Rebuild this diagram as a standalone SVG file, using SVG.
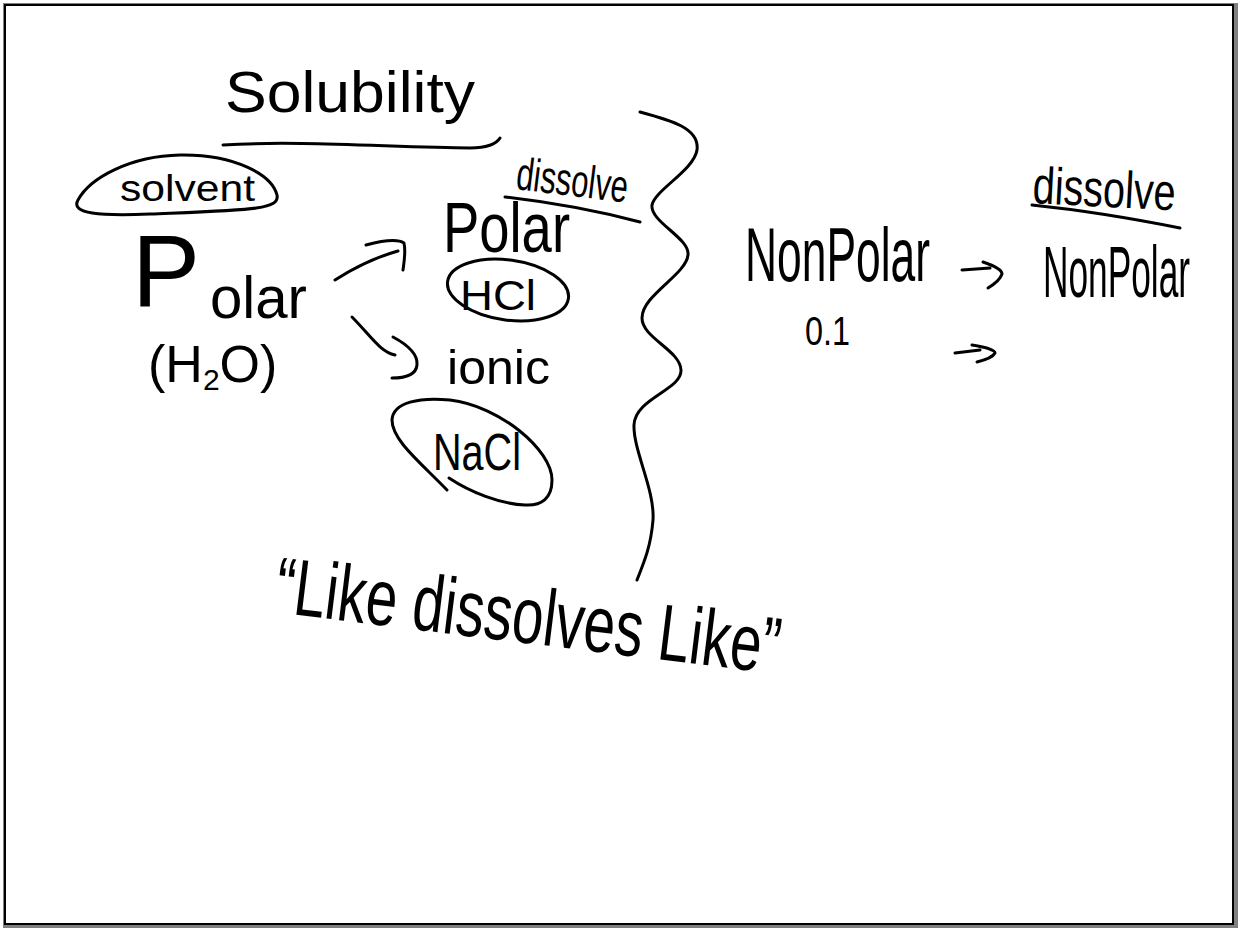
<svg xmlns="http://www.w3.org/2000/svg" width="1238" height="928" viewBox="0 0 1238 928">
  <defs>
    <style>
      .hw { font-family: "Liberation Sans", Arial, sans-serif; fill: #000; }
      .ink { fill: none; stroke: #000; stroke-width: 3; stroke-linecap: round; stroke-linejoin: round; }
    </style>
  </defs>
  <rect x="0" y="0" width="1238" height="928" fill="#ffffff"/>
  <rect x="3" y="3" width="1235" height="925" fill="#808080"/>
  <rect x="5" y="5" width="1228" height="919" fill="#ffffff" stroke="#000" stroke-width="2"/>

  <g id="title">
    <text class="hw" x="225" y="112" font-size="58" textLength="250" lengthAdjust="spacingAndGlyphs">Solubility</text>
    <path class="ink" d="M223,145 C300,140 400,148 470,148 C488,148 497,143 500,138"/>
  </g>

  <g id="solvent">
    <path class="ink" d="M150,214 C100,216 70,214 78,200 C90,178 130,156 180,155 C235,154 272,175 277,195 C280,210 250,210 150,214 Z"/>
    <text class="hw" x="120" y="201" font-size="36" textLength="135" lengthAdjust="spacingAndGlyphs">solvent</text>
  </g>

  <g id="polar-main">
    <text class="hw" x="132" y="306"><tspan font-size="102">P</tspan><tspan x="210" y="318" font-size="60" textLength="97" lengthAdjust="spacingAndGlyphs">olar</tspan></text>
  </g>

  <g id="h2o">
    <text class="hw" x="148" y="382" font-size="52">(H<tspan font-size="30" dy="8">2</tspan><tspan dy="-8">O)</tspan></text>
  </g>

  <g id="polar-upper">
    <text class="hw" x="443" y="252" font-size="70" textLength="127" lengthAdjust="spacingAndGlyphs">Polar</text>
  </g>

  <g id="dissolve-mid">
    <text class="hw" x="515" y="189" font-size="46" textLength="112" lengthAdjust="spacingAndGlyphs" transform="rotate(7 515 189)">dissolve</text>
    <path class="ink" d="M505,197 Q575,205 640,222"/>
  </g>

  <g id="hcl">
    <ellipse class="ink" cx="508" cy="290" rx="61" ry="30" transform="rotate(8 508 290)"/>
    <text class="hw" x="460" y="310" font-size="43" textLength="76" lengthAdjust="spacingAndGlyphs">HCl</text>
  </g>

  <g id="ionic">
    <text class="hw" x="447" y="384" font-size="48" textLength="103" lengthAdjust="spacingAndGlyphs">ionic</text>
  </g>

  <g id="nacl">
    <path class="ink" d="M447,490 C420,462 392,440 392,420 C393,402 420,397 450,400 C500,406 552,450 552,480 C552,498 542,506 525,505 C500,504 470,492 449,478"/>
    <text class="hw" x="433" y="470" font-size="52" textLength="88" lengthAdjust="spacingAndGlyphs">NaCl</text>
  </g>

  <g id="brace">
    <path class="ink" d="M640,112 C670,120 700,128 697,150 C694,170 655,190 652,205 C650,222 690,238 688,255 C686,275 642,295 642,318 C642,338 680,350 681,370 C682,390 635,398 634,425 C633,450 655,490 653,520 C651,545 645,560 637,580"/>
  </g>

  <g id="nonpolar">
    <text class="hw" x="0" y="0" font-size="76" transform="translate(745 281) scale(0.584 1)">NonPolar</text>
  </g>

  <g id="value">
    <text class="hw" x="805" y="345" font-size="40" textLength="45" lengthAdjust="spacingAndGlyphs">0.1</text>
  </g>

  <g id="dissolve-right">
    <text class="hw" x="1032" y="203" font-size="52" textLength="143" lengthAdjust="spacingAndGlyphs" transform="rotate(3 1032 203)">dissolve</text>
    <path class="ink" d="M1032,205 Q1100,212 1180,228"/>
  </g>

  <g id="nonpolar-right">
    <text class="hw" x="0" y="0" font-size="72" transform="translate(1043 297) scale(0.49 1)">NonPolar</text>
  </g>

  <g id="phrase">
    <text class="hw" x="273" y="612" font-size="80" textLength="508" lengthAdjust="spacingAndGlyphs" transform="rotate(7 273 612)">“Like dissolves Like”</text>
  </g>

  <g id="connectors">
    <path class="ink" d="M335,280 C360,264 380,256 398,251"/>
    <path class="ink" d="M366,245 C385,240 398,239 404,243 C406,252 404,262 403,270"/>
    <path class="ink" d="M352,317 C370,335 380,352 395,355"/>
    <path class="ink" d="M393,337 C408,345 418,355 417,365 C416,375 405,378 392,378"/>
    <path class="ink" d="M962,270 L990,268"/>
    <path class="ink" d="M983,262 C995,266 1002,270 1002,274 C1000,280 993,285 988,288"/>
    <path class="ink" d="M955,353 L980,350"/>
    <path class="ink" d="M972,345 C985,347 995,350 995,353 C993,357 985,360 977,362"/>
  </g>
</svg>
